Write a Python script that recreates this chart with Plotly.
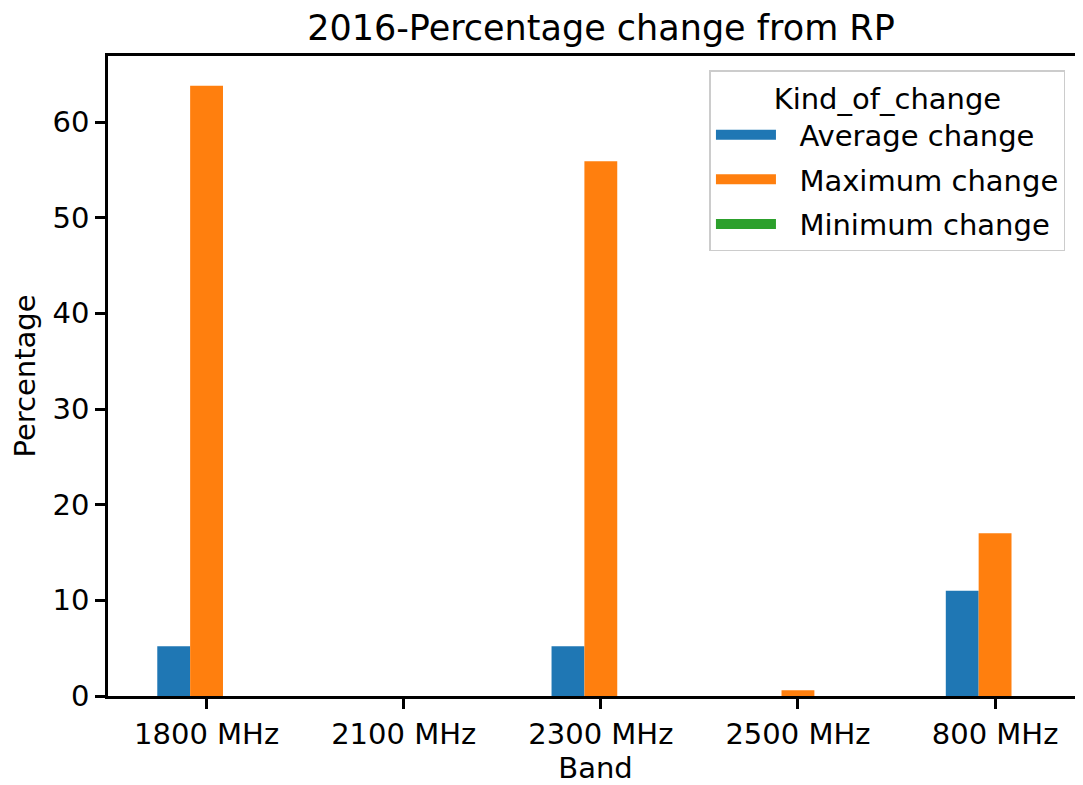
import plotly.graph_objects as go

# data
bands = ["1800 MHz", "2100 MHz", "2300 MHz", "2500 MHz", "800 MHz"]
average_change = [5.2, 0, 5.2, 0, 11.0]
maximum_change = [63.8, 0, 55.9, 0.6, 17.0]
minimum_change = [0, 0, 0, 0, 0]
y_ticks = [0, 10, 20, 30, 40, 50, 60]

series = [
    ("Average change", average_change, "#1f77b4"),
    ("Maximum change", maximum_change, "#ff7f0e"),
    ("Minimum change", minimum_change, "#2ca02c"),
]

fig = go.Figure()
for name, vals, color in series:
    fig.add_trace(go.Bar(x=bands, y=vals, name=name, marker_color=color,
                         marker_line_width=0, showlegend=False))
    # legend entry drawn as a wide thick line so the patch looks like matplotlib's
    fig.add_trace(go.Scatter(x=[None], y=[None], mode="lines",
                             name="\u00a0\u00a0" + name, legendgroup=name,
                             line=dict(color=color, width=22)))

font_family = "DejaVu Sans"
axis_style = dict(showline=True, linecolor="black", linewidth=2.5,
                  ticks="outside", ticklen=10, tickwidth=2.5, tickcolor="black",
                  showgrid=False, zeroline=False, automargin=False,
                  tickfont=dict(size=29, color="black"))

# the page body adds 8px around the figure, so the figure is 8px smaller
fig.update_layout(
    width=1075, height=777,
    margin=dict(l=100, r=0, t=48, b=89),
    paper_bgcolor="white", plot_bgcolor="white",
    font=dict(family=font_family, color="black", size=29),
    title=dict(text="2016-Percentage change from RP", x=0.5056, xref="paper",
               xanchor="center", y=0.975, yanchor="middle",
               font=dict(size=35, color="black")),
    barmode="group", bargap=0.5, bargroupgap=0,
    legend=dict(x=0.982, y=0.978, xanchor="right", yanchor="top",
                bordercolor="#cccccc", borderwidth=1.5, bgcolor="white",
                title=dict(text="Kind_of_change", side="top center",
                           font=dict(size=29)),
                itemwidth=60, tracegroupgap=4,
                font=dict(size=29)),
)
fig.update_xaxes(range=[-0.5, 4.446], mirror=True,
                 title=dict(text="Band", font=dict(size=29), standoff=8),
                 **axis_style)
fig.update_yaxes(range=[0, 66.9], tickvals=y_ticks,
                 title=dict(text="Percentage", font=dict(size=29), standoff=13),
                 **axis_style)

fig.write_html("out.html")
